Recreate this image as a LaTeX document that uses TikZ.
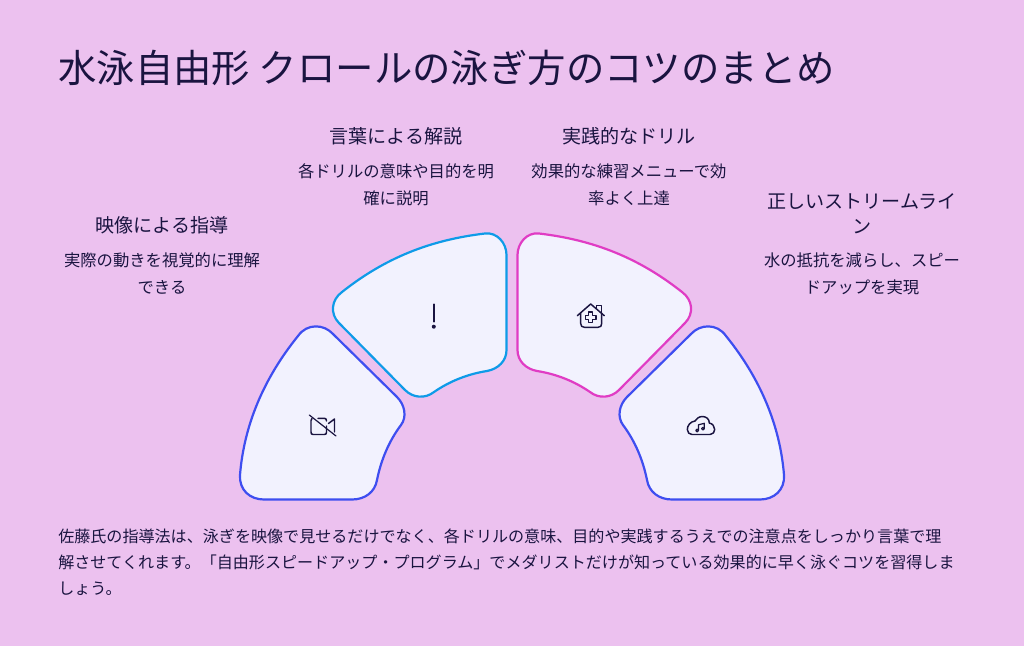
\documentclass[tikz,border=0pt]{standalone}
\usepackage{fontspec}
\setmainfont{Noto Sans CJK JP}
\definecolor{backpink}{RGB}{236,193,239}
\definecolor{cardfill}{RGB}{242,242,254}
\definecolor{inkblue}{RGB}{26,20,64}
\definecolor{edgeviolet}{RGB}{62,78,240}
\definecolor{edgesky}{RGB}{14,155,232}
\definecolor{edgepink}{RGB}{224,60,196}
\begin{document}
\begin{tikzpicture}[x=0.75pt,y=-0.75pt]
%
% Styles
\tikzstyle{card} = [fill=cardfill, line width=1.65pt, line join=round]
\tikzstyle{icon} = [draw=inkblue, line width=1.1pt, line cap=round, line join=round]
\tikzstyle{heading} = [inkblue, align=center, inner sep=0pt, font=\fontsize{14.3}{18.75}\selectfont]
\tikzstyle{detail} = [inkblue, align=center, inner sep=0pt, font=\fontsize{12.25}{20.25}\selectfont]
% Outlines (right side is mirrored)
\def\outerpath{(298,336) .. controls (264,378) and (244,425) .. (240,475)
  .. controls (239,490) and (250,499.5) .. (264,499.5) -- (352,499.5)
  .. controls (365,499.5) and (375,492) .. (377,480)
  .. controls (381,460) and (389,441) .. (401,425)
  .. controls (407,417) and (405,405) .. (397,397) -- (333,334)
  .. controls (324,324) and (307,323) .. (298,336) -- cycle}
\def\innerpath{(342,292) .. controls (385,258) and (430,240) .. (485,233.5)
  .. controls (497,232) and (506.5,243) .. (506.5,255) -- (506.5,350)
  .. controls (506.5,361) and (498,369) .. (487,371)
  .. controls (468,374) and (450,381) .. (434,392)
  .. controls (425,399) and (413,398) .. (405,390) -- (339,323)
  .. controls (330,314) and (331,300) .. (342,292) -- cycle}
% Background
\fill [backpink] (0,0) rectangle (1024,646);
\useasboundingbox (0,0) rectangle (1024,646);
% Cards
\draw [card, draw=edgeviolet] \outerpath;
\draw [card, draw=edgesky] \innerpath;
\begin{scope}[shift={(1024,0)}, xscale=-1]
\draw [card, draw=edgepink] \innerpath;
\draw [card, draw=edgeviolet] \outerpath;
\end{scope}
% Icons
\draw [icon] (326.5,426) -- (326.5,432) .. controls (326.5,433.5) and (326,434.5) .. (324.5,434.5) -- (313,434.5) .. controls (311.5,434.5) and (311,433.5) .. (311,432) -- (311,420.5) .. controls (311,419.5) and (311.5,419) .. (312,418.5);
\draw [icon] (318,418.3) -- (324.5,418.3) .. controls (326,418.3) and (326.5,419.5) .. (326.5,421);
\draw [icon] (328.5,423.5) -- (334.5,419) -- (334.5,432);
\draw [icon, line width=0.9pt] (309.3,415) -- (336,436);
\draw [icon, line width=1.5pt] (433.8,304.3) -- (433.8,321.7);
\fill [inkblue] (433.8,326.7) circle (1.5pt);
\draw [icon] (577.3,315.7) -- (590.7,304) -- (604.3,315.7);
\draw [icon] (580.7,313) -- (580.7,323.5) .. controls (580.7,326) and (582,327.3) .. (584.5,327.3) -- (598,327.3) .. controls (600.5,327.3) and (601.7,326) .. (601.7,323.5) -- (601.7,313);
\draw [icon] (596.7,308.3) -- (596.7,305.7) -- (601.7,305.7) -- (601.7,313);
\draw [icon] (588.7,312) -- (592.7,312) -- (592.7,315.3) -- (596,315.3) -- (596,319.3) -- (592.7,319.3) -- (592.7,322.6) -- (588.7,322.6) -- (588.7,319.3) -- (585.4,319.3) -- (585.4,315.3) -- (588.7,315.3) -- cycle;
\draw [icon] (692,434.5) -- (710,434.5) .. controls (713,434.5) and (714.7,432) .. (714.7,429.5) .. controls (714.7,426.5) and (712.5,423.5) .. (709.3,423) .. controls (709.5,419) and (706,416.5) .. (702.5,416.5) .. controls (699,416.5) and (696.5,418.5) .. (695,421) .. controls (690.5,421.5) and (687.3,425.5) .. (687.3,429.5) .. controls (687.3,432.5) and (689.5,434.5) .. (692,434.5) -- cycle;
\draw [icon, line width=0.9pt] (698.5,430.5) -- (698.5,424.8) -- (704.3,423.3) -- (704.3,428.7);
\draw [icon, line width=0.9pt] (697.1,430.5) circle (1pt);
\draw [icon, line width=0.9pt] (702.9,428.7) circle (1pt);
% Nodes
\node (title) [anchor=west, inkblue, inner sep=0pt, font=\fontsize{28.8}{34}\selectfont] at (58,68) {水泳自由形 クロールの泳ぎ方のコツのまとめ};
\node (head_video) [heading] at (162,225) {映像による指導};
\node (text_video) [detail] at (162,273.5) {実際の動きを視覚的に理解\\できる};
\node (head_words) [heading] at (396,136) {言葉による解説};
\node (text_words) [detail] at (396,185) {各ドリルの意味や目的を明\\確に説明};
\node (head_drill) [heading] at (629,136) {実践的なドリル};
\node (text_drill) [detail] at (629,185) {効果的な練習メニューで効\\率よく上達};
\node (head_line) [heading] at (862,213.5) {正しいストリームライ\\ン};
\node (text_line) [detail] at (862,273.5) {水の抵抗を減らし、スピー\\ドアップを実現};
\node (summary) [anchor=west, inkblue, align=left, inner sep=0pt, font=\fontsize{12.05}{19.5}\selectfont] at (58,562) {佐藤氏の指導法は、泳ぎを映像で見せるだけでなく、各ドリルの意味、目的や実践するうえでの注意点をしっかり言葉で理\\解させてくれます。「自由形スピードアップ・プログラム」でメダリストだけが知っている効果的に早く泳ぐコツを習得しま\\しょう。};
\end{tikzpicture}
\end{document}
